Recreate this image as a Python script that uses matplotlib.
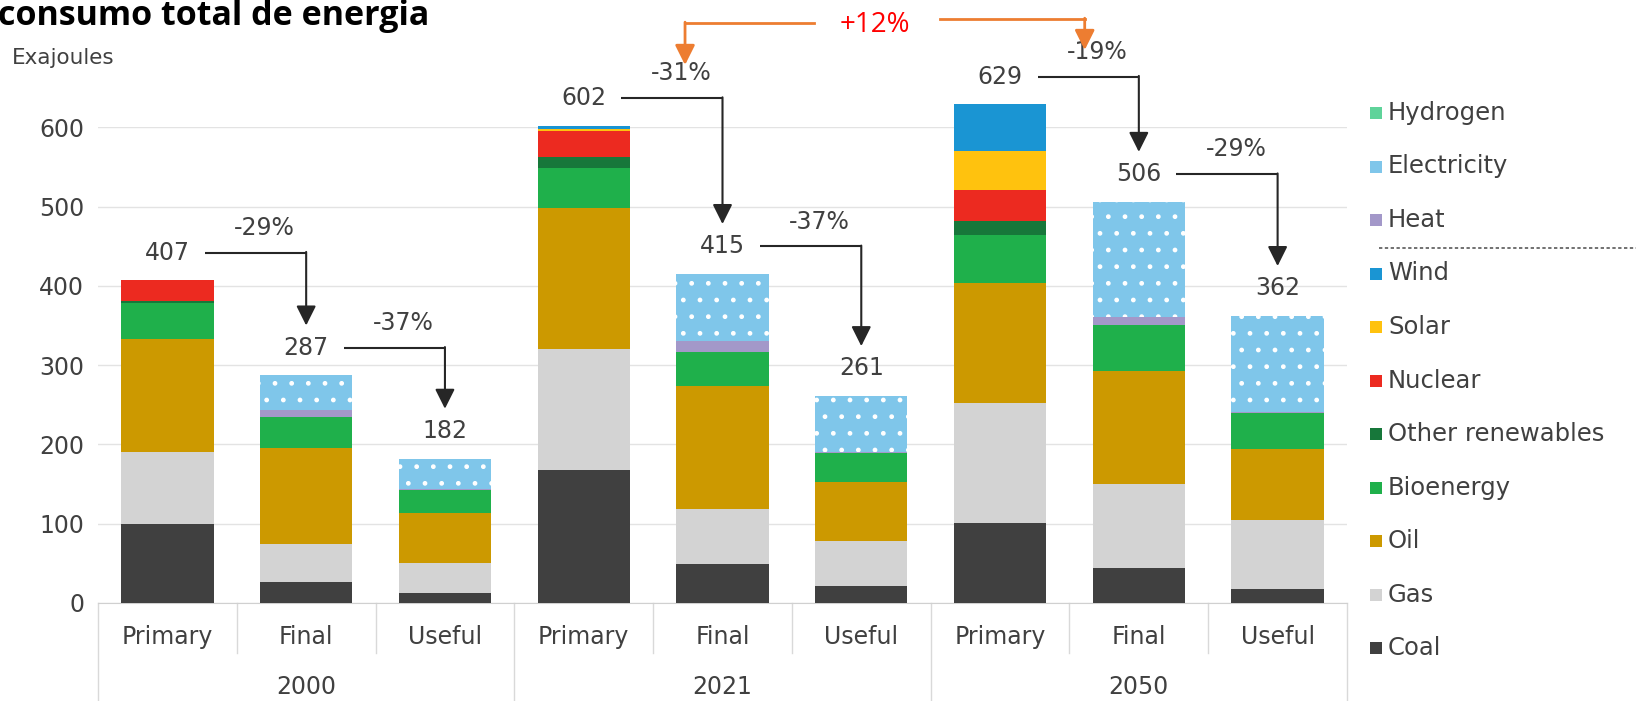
import matplotlib.pyplot as plt
import numpy as np
from matplotlib.patches import Rectangle
from matplotlib.lines import Line2D

plt.rcParams["font.family"] = "DejaVu Sans"
plt.rcParams["hatch.color"] = "white"
plt.rcParams["hatch.linewidth"] = 1.0

W, H = 1644, 701

CATEGORIES = ["Primary", "Final", "Useful"] * 3
YEARS = ["2000", "2021", "2050"]

# exajoules per stage, stacked bottom to top
COAL = [100, 27, 13, 168, 49, 21, 101, 44, 18]
GAS = [90, 47, 38, 152, 70, 57, 151, 106, 87]
OIL = [143, 122, 63, 178, 155, 75, 152, 143, 89]
BIOENERGY = [45, 38, 29, 51, 43, 36, 60, 58, 46]
OTHER_RENEWABLES = [3, 0, 0, 14, 0, 0, 18, 0, 0]
NUCLEAR = [26, 0, 0, 32, 0, 0, 39, 0, 0]
SOLAR = [0, 0, 0, 3, 0, 0, 49, 0, 0]
WIND = [0, 0, 0, 4, 0, 0, 59, 0, 0]
HEAT = [0, 9, 1, 0, 13, 1, 0, 10, 1]
ELECTRICITY = [0, 44, 38, 0, 85, 71, 0, 145, 121]
HYDROGEN = [0, 0, 0, 0, 0, 0, 0, 0, 0]

STEP_CHANGES = ["-29%", "-37%", "-31%", "-37%", "-19%", "-29%"]
PERIOD_CHANGE = "+12%"

SERIES = [
    ("Coal", COAL, "#404040"),
    ("Gas", GAS, "#d3d3d3"),
    ("Oil", OIL, "#cc9900"),
    ("Bioenergy", BIOENERGY, "#1fb04b"),
    ("Other renewables", OTHER_RENEWABLES, "#17773a"),
    ("Nuclear", NUCLEAR, "#ec2a20"),
    ("Solar", SOLAR, "#ffc20e"),
    ("Wind", WIND, "#1a95d3"),
    ("Heat", HEAT, "#a398c9"),
    ("Electricity", ELECTRICITY, "#7fc6ea"),
    ("Hydrogen", HYDROGEN, "#5fd39a"),
]

TEXT_GREY = "#404040"
GRID_GREY = "#e3e3e3"
FS = 17


def px_x(x):
    return x / W


def px_y(y):
    return 1 - y / H


fig = plt.figure(figsize=(W / 100, H / 100), dpi=100)
ax = fig.add_axes([px_x(98), px_y(603), px_x(1347 - 98), (603 - 127.3) / H])

x = np.arange(len(CATEGORIES))
bottom = np.zeros(len(CATEGORIES))
for name, values, color in SERIES:
    values = np.array(values, dtype=float)
    hatch = "." if name == "Electricity" else None
    ax.bar(x, values, width=0.665, bottom=bottom, color=color,
           edgecolor="white" if hatch else color, linewidth=0,
           hatch=hatch, clip_on=False, zorder=3)
    bottom += values
totals = bottom

ax.set_xlim(-0.5, 8.5)
ax.set_ylim(0, 600)
ax.set_yticks(range(0, 601, 100))
ax.tick_params(axis="y", length=0, pad=10, labelsize=FS, labelcolor=TEXT_GREY)
ax.set_xticks([])
for side in ["top", "right", "left"]:
    ax.spines[side].set_visible(False)
ax.spines["bottom"].set_color("#d0d0d0")
ax.grid(axis="y", color=GRID_GREY, linewidth=1, zorder=0)

# category and year labels below the axis
for i, cat in enumerate(CATEGORIES):
    ax.text(i, -43, cat, ha="center", va="center", fontsize=FS,
            color=TEXT_GREY, clip_on=False)
for j, year in enumerate(YEARS):
    ax.text(3 * j + 1, -106, year, ha="center", va="center", fontsize=FS,
            color=TEXT_GREY, clip_on=False)
for k in range(10):
    bottom_y = -130 if k % 3 == 0 else -63
    ax.plot([k - 0.5, k - 0.5], [0, bottom_y], color="#d9d9d9", lw=1,
            clip_on=False)

fig.text(px_x(12), px_y(58), "Exajoules", fontsize=15.5, color=TEXT_GREY,
         ha="left", va="center")

# totals with step-down arrows between stages
LABEL_GAP = 35
for i, total in enumerate(totals):
    ax.text(i, total + LABEL_GAP, f"{total:.0f}", ha="center", va="center",
            fontsize=FS, color=TEXT_GREY, zorder=5)

pairs = [(0, 1), (1, 2), (3, 4), (4, 5), (6, 7), (7, 8)]
for (a, b), label in zip(pairs, STEP_CHANGES):
    y0 = totals[a] + LABEL_GAP
    tip = totals[b] + LABEL_GAP + 28
    ax.plot([a + 0.27, b], [y0, y0], color="#262626", lw=1.5,
            solid_capstyle="butt", clip_on=False)
    ax.annotate("", xy=(b, tip), xytext=(b, y0 + 0.8),
                arrowprops=dict(arrowstyle="-|>,head_length=0.6,head_width=0.3",
                                color="#262626", lw=1.5, mutation_scale=20,
                                shrinkA=0, shrinkB=0),
                annotation_clip=False)
    ax.text(a + 0.7, y0 + 31, label, ha="center", va="center", fontsize=FS,
            color=TEXT_GREY)

# period change bracket
orange = "#ed7d31"
ax.plot([4.66, 3.73], [731.6, 731.6], color=orange, lw=2, clip_on=False)
ax.annotate("", xy=(3.73, 678.6), xytext=(3.73, 732.6),
            arrowprops=dict(arrowstyle="-|>,head_length=0.6,head_width=0.3",
                            color=orange, lw=2, mutation_scale=20,
                            shrinkA=0, shrinkB=0),
            annotation_clip=False)
ax.plot([5.57, 6.61], [736.6, 736.6], color=orange, lw=2, clip_on=False)
ax.annotate("", xy=(6.61, 697.5), xytext=(6.61, 737.6),
            arrowprops=dict(arrowstyle="-|>,head_length=0.6,head_width=0.3",
                            color=orange, lw=2, mutation_scale=20,
                            shrinkA=0, shrinkB=0),
            annotation_clip=False)
ax.text(5.1, 729, PERIOD_CHANGE, ha="center", va="center", fontsize=20,
        color="#ff0000", family="Open Sans")

fig.text(px_x(-2), px_y(25), "consumo total de energia", fontsize=24.5,
         fontweight="bold", family="Open Sans", ha="left", va="baseline",
         color="black")

# legend, top entry first
legend_items = SERIES[::-1]
for n, (name, values, color) in enumerate(legend_items):
    yc = 113 + 53.5 * n
    fig.add_artist(Rectangle((px_x(1370), px_y(yc + 6)), 12 / W, 12 / H,
                             transform=fig.transFigure, facecolor=color,
                             edgecolor="none", linewidth=0))
    fig.text(px_x(1388), px_y(yc), name, fontsize=17.5, color=TEXT_GREY,
             ha="left", va="center")
fig.add_artist(Line2D([px_x(1379), px_x(1636)], [px_y(248), px_y(248)],
                      transform=fig.transFigure, color="#595959", lw=1.2,
                      linestyle=(0, (2, 1.5))))

fig.savefig("out.png", dpi=100, facecolor="white")
